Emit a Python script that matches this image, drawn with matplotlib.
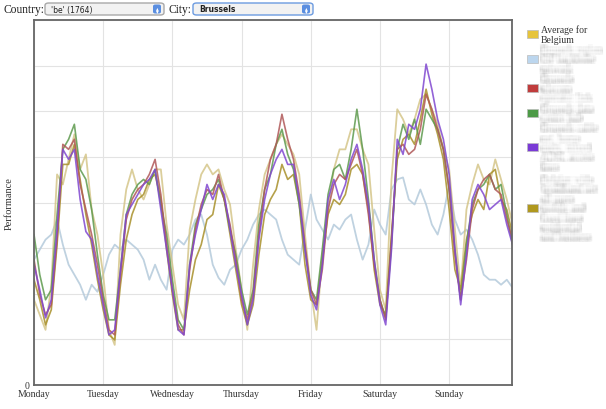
import numpy as np
import matplotlib
matplotlib.use("Agg")
import matplotlib.pyplot as plt
from matplotlib.patches import FancyBboxPatch, Rectangle

# hours since Monday 00:00, one reading every 2 hours
hours = list(range(0, 168, 2))
days = ["Monday", "Tuesday", "Wednesday", "Thursday", "Friday", "Saturday", "Sunday"]
day_ticks = [0, 24, 48, 72, 96, 120, 144]

avg_belgium = [85, 70, 55, 100, 210, 200, 225, 250, 215, 230, 175, 150,
               110, 55, 40, 150, 195, 215, 195, 185, 200, 215, 215, 160,
               120, 80, 65, 155, 185, 210, 220, 210, 215, 195, 180, 135,
               95, 55, 120, 175, 210, 225, 240, 250, 240, 230, 210, 150,
               95, 55, 130, 175, 215, 235, 235, 255, 255, 235, 220, 155,
               95, 75, 205, 275, 265, 250, 265, 285, 290, 275, 260, 235,
               215, 155, 95, 175, 200, 220, 205, 200, 225, 205, 185, 160]
light_blue = [125, 135, 145, 150, 165, 140, 120, 110, 100, 85, 100, 93,
              110, 130, 140, 135, 145, 140, 135, 125, 105, 120, 105, 95,
              135, 145, 140, 150, 165, 170, 150, 120, 107, 100, 115, 120,
              135, 145, 160, 170, 175, 170, 165, 145, 130, 125, 120, 155,
              190, 165, 155, 145, 160, 155, 165, 170, 145, 125, 140, 175,
              160, 150, 195, 205, 207, 185, 180, 195, 180, 160, 150, 170,
              200, 165, 150, 155, 145, 130, 110, 105, 105, 100, 105, 97]
red = [125, 90, 70, 80, 145, 240, 235, 245, 200, 175, 150, 120,
       85, 55, 50, 110, 165, 185, 195, 200, 210, 225, 190, 140,
       95, 60, 50, 115, 155, 180, 195, 190, 210, 185, 160, 125,
       85, 65, 90, 150, 195, 225, 240, 270, 245, 225, 190, 140,
       95, 80, 115, 175, 200, 210, 205, 220, 235, 210, 170, 120,
       85, 65, 145, 235, 240, 230, 235, 255, 290, 275, 255, 235,
       195, 130, 85, 125, 175, 195, 205, 210, 195, 190, 165, 145]
green = [150, 110, 85, 95, 170, 235, 245, 260, 215, 205, 175, 130,
         90, 65, 65, 115, 170, 190, 200, 205, 200, 215, 180, 150,
         105, 65, 55, 120, 160, 175, 190, 195, 205, 185, 155, 130,
         95, 70, 95, 160, 195, 210, 240, 255, 230, 215, 180, 135,
         95, 85, 135, 190, 215, 220, 205, 235, 275, 235, 185, 125,
         85, 67, 140, 235, 260, 245, 265, 240, 275, 265, 255, 235,
         195, 135, 85, 140, 180, 195, 200, 210, 195, 200, 170, 140]
purple = [120, 95, 67, 85, 155, 235, 225, 235, 185, 153, 145, 110,
          80, 50, 55, 115, 170, 180, 190, 200, 205, 215, 175, 135,
          95, 55, 50, 120, 150, 175, 200, 185, 200, 190, 155, 120,
          90, 60, 85, 145, 185, 210, 225, 235, 220, 220, 185, 135,
          90, 75, 120, 185, 205, 185, 200, 225, 240, 215, 180, 125,
          80, 60, 135, 245, 230, 260, 255, 275, 320, 295, 265, 245,
          210, 135, 80, 130, 185, 200, 190, 175, 180, 185, 160, 140]
olive = [105, 85, 60, 75, 140, 220, 220, 240, 205, 170, 140, 105,
         75, 50, 45, 100, 145, 170, 185, 190, 205, 210, 185, 135,
         90, 55, 55, 95, 125, 140, 165, 170, 200, 185, 150, 115,
         80, 60, 80, 130, 170, 185, 195, 220, 205, 210, 180, 120,
         85, 80, 125, 170, 185, 180, 190, 215, 220, 210, 175, 115,
         80, 70, 150, 225, 245, 250, 240, 265, 295, 270, 250, 225,
         175, 115, 95, 145, 170, 185, 175, 210, 215, 185, 175, 150]

legend_labels = [
    ["Average for", "Belgium"],
    ["Brussels region", "ISP backbone", "network"],
    ["Brussels", "telecom", "operator link"],
    ["Brussels data", "centre hub"],
    ["Brussels cable", "net, home", "users, mixed", "ADSL access", "lines"],
    ["Belgian wide", "broadband net", "all users", "mobile and", "fixed lines",
     "residential", "and business"],
]
swatch_y = [35, 60, 89, 114, 148, 209]
swatch_colors = ["#e6c43c", "#bcd6ee", "#c03c3c", "#4c9a46", "#7a3ad6", "#b0981e"]


def blur(im, dpi):
    r = 2
    pad = 4
    a = np.pad(im, ((pad, pad), (pad, pad), (0, 0)))
    out = np.zeros_like(a)
    n = 0
    for dy in range(-r, r + 1):
        for dx in range(-r, r + 1):
            out += np.roll(np.roll(a, dy, axis=0), dx, axis=1)
            n += 1
    return out / n, -pad, -pad


W, H = 606, 410
fig = plt.figure(figsize=(W / 100, H / 100), dpi=100)
fig.patch.set_facecolor("white")
ax = fig.add_axes([34 / W, 1 - 386 / H, (512 - 34) / W, (386 - 21) / H])

ax.plot(hours, light_blue, color="#b4cadb", lw=1.3, alpha=0.85)
ax.plot(hours, avg_belgium, color="#d2c282", lw=1.3, alpha=0.8)
ax.plot(hours, olive, color="#a8902a", lw=1.2, alpha=0.85)
ax.plot(hours, green, color="#5e9a4e", lw=1.2, alpha=0.85)
ax.plot(hours, red, color="#b05858", lw=1.2, alpha=0.85)
ax.plot(hours, purple, color="#8048d0", lw=1.2, alpha=0.85)

ax.set_xlim(0, 165.8)
ax.set_ylim(0, 364)
ax.set_xticks(day_ticks)
ax.set_xticklabels(days)
yt = np.arange(0, 365, 45.5)
ax.set_yticks(yt)
ax.set_yticklabels(["0"] + [""] * (len(yt) - 1))
ax.grid(color="#e3e3e3", lw=0.8)
ax.set_axisbelow(True)
ax.tick_params(length=0, labelsize=7, colors="#333333", pad=3)
for lab in ax.get_xticklabels() + ax.get_yticklabels():
    lab.set_family("Liberation Serif")
for s in ax.spines.values():
    s.set_color("#666666")
    s.set_linewidth(1.3)
ax.set_ylabel("Performance", family="Liberation Serif", fontsize=7.5, color="#333333", labelpad=8)

# header controls
fig.text(3 / W, 1 - 10 / H, "Country:", family="Liberation Serif", fontsize=8.3, va="center", color="#222222")
fig.text(168 / W, 1 - 10 / H, "City:", family="Liberation Serif", fontsize=8.3, va="center", color="#222222")
boxes = [(45, 164, "'be' (1764)", "#a8a8a8", "normal"), (193, 313, "Brussels", "#6c9be0", "bold")]
for x0, x1, txt, ec, weight in boxes:
    fig.add_artist(FancyBboxPatch((x0 / W, 1 - 16 / H), (x1 - x0) / W, 12 / H,
                                  boxstyle="round,pad=0,rounding_size=0.006",
                                  transform=fig.transFigure, fc="#f2f2f2", ec=ec, lw=1.0))
    fig.text((x0 + 6) / W, 1 - 10 / H, txt, family="DejaVu Sans", fontsize=5.5,
             fontweight=weight, va="center", color="#222222")
    fig.add_artist(FancyBboxPatch(((x1 - 11) / W, 1 - 14.5 / H), 8 / W, 9 / H,
                                  boxstyle="round,pad=0,rounding_size=0.004",
                                  transform=fig.transFigure, fc="#5a8ee0", ec="none"))
    fig.text((x1 - 7) / W, 1 - 8.2 / H, "\u25b4", fontsize=4, color="white", ha="center", va="center")
    fig.text((x1 - 7) / W, 1 - 11.8 / H, "\u25be", fontsize=4, color="white", ha="center", va="center")

# legend on the right
for i, (lines, yc, col) in enumerate(zip(legend_labels, swatch_y, swatch_colors)):
    fig.add_artist(Rectangle((527 / W, 1 - (yc + 4) / H), 11 / W, 8 / H, transform=fig.transFigure,
                             fc=col, ec="#bbbbbb", lw=0.5))
    n = len(lines)
    for j, line in enumerate(lines):
        yy = yc + (j - (n - 1) / 2) * (10.5 if i == 0 else 9.6)
        if i == 0:
            fig.text(541 / W, 1 - yy / H, line, family="Liberation Serif", fontsize=7,
                     va="center", color="#333333")
        else:
            t = fig.text(541 / W, 1 - yy / H, line, family="Liberation Serif", fontsize=7,
                         va="center", color="#b4b4b4")
            t.set_agg_filter(blur)

fig.savefig("out.png", dpi=100)
